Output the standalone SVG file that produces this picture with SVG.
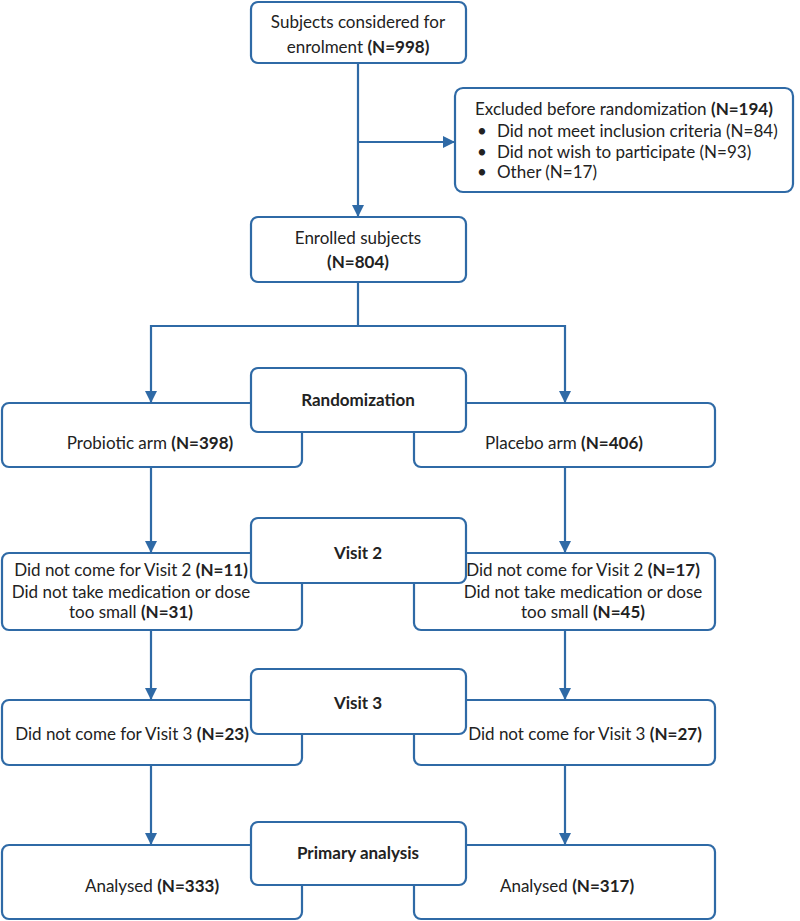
<svg xmlns="http://www.w3.org/2000/svg" width="800" height="921" viewBox="0 0 800 921">
<style>
.box{fill:#fff;stroke:#2f6aa6;stroke-width:2.2}
.ln{fill:none;stroke:#2f6aa6;stroke-width:2.2}
text{font-family:Lato,"Open Sans","Liberation Sans",sans-serif;font-size:17px;fill:#222}
.c{text-anchor:middle}
.b{font-weight:bold}
</style>
<defs>
<marker id="ah" markerWidth="12" markerHeight="12" refX="11" refY="6" orient="auto" markerUnits="userSpaceOnUse" viewBox="0 0 12 12">
<path d="M0,0 L12,6 L0,12 z" fill="#2f6aa6"/>
</marker>
</defs>
<rect width="800" height="921" fill="#fff"/>
<g id="connectors">
<path class="ln" d="M358,63 V216" marker-end="url(#ah)"/>
<path class="ln" d="M358,142 H454" marker-end="url(#ah)"/>
<path class="ln" d="M358,282 V326 H151 V402" marker-end="url(#ah)"/>
<path class="ln" d="M358,326 H565 V402" marker-end="url(#ah)"/>
<path class="ln" d="M151,467 V552" marker-end="url(#ah)"/>
<path class="ln" d="M565,467 V552" marker-end="url(#ah)"/>
<path class="ln" d="M151,630 V699" marker-end="url(#ah)"/>
<path class="ln" d="M565,630 V699" marker-end="url(#ah)"/>
<path class="ln" d="M151,765 V844" marker-end="url(#ah)"/>
<path class="ln" d="M565,765 V844" marker-end="url(#ah)"/>
</g>
<g id="considered">
<rect class="box" x="251" y="2" width="215" height="61" rx="7"/>
<text class="c" x="358" y="28">Subjects considered for</text>
<text class="c" x="358" y="53">enrolment <tspan class="b">(N=998)</tspan></text>
</g>
<g id="excluded">
<rect class="box" x="455" y="88" width="338" height="104" rx="8"/>
<text x="475" y="115">Excluded before randomization <tspan class="b">(N=194)</tspan></text>
<text x="477" y="137">•</text><text x="497" y="137">Did not meet inclusion criteria (N=84)</text>
<text x="477" y="158">•</text><text x="497" y="158">Did not wish to participate (N=93)</text>
<text x="477" y="178">•</text><text x="497" y="178">Other (N=17)</text>
</g>
<g id="enrolled">
<rect class="box" x="251" y="217" width="215" height="65" rx="7"/>
<text class="c" x="358" y="244">Enrolled subjects</text>
<text class="c b" x="358" y="268">(N=804)</text>
</g>
<g id="probiotic">
<rect class="box" x="2" y="403" width="300" height="64" rx="7"/>
<text class="c" x="150" y="449">Probiotic arm <tspan class="b">(N=398)</tspan></text>
</g>
<g id="placebo">
<rect class="box" x="414" y="403" width="301" height="64" rx="7"/>
<text class="c" x="564" y="449">Placebo arm <tspan class="b">(N=406)</tspan></text>
</g>
<g id="randomization">
<rect class="box" x="251" y="368" width="215" height="64" rx="7"/>
<text class="c b" x="358" y="406">Randomization</text>
</g>
<g id="v2left">
<rect class="box" x="2" y="553" width="300" height="77" rx="7"/>
<text class="c" x="131" y="576">Did not come for Visit 2 <tspan class="b">(N=11)</tspan></text>
<text class="c" x="131" y="598">Did not take medication or dose</text>
<text class="c" x="131" y="618">too small <tspan class="b">(N=31)</tspan></text>
</g>
<g id="v2right">
<rect class="box" x="414" y="553" width="301" height="77" rx="7"/>
<text class="c" x="583" y="576">Did not come for Visit 2 <tspan class="b">(N=17)</tspan></text>
<text class="c" x="583" y="598">Did not take medication or dose</text>
<text class="c" x="583" y="618">too small <tspan class="b">(N=45)</tspan></text>
</g>
<g id="visit2">
<rect class="box" x="251" y="518" width="215" height="65" rx="7"/>
<text class="c b" x="358" y="559">Visit 2</text>
</g>
<g id="v3left">
<rect class="box" x="2" y="700" width="300" height="65" rx="7"/>
<text class="c" x="132" y="740">Did not come for Visit 3 <tspan class="b">(N=23)</tspan></text>
</g>
<g id="v3right">
<rect class="box" x="414" y="700" width="301" height="65" rx="7"/>
<text class="c" x="585" y="740">Did not come for Visit 3 <tspan class="b">(N=27)</tspan></text>
</g>
<g id="visit3">
<rect class="box" x="251" y="669" width="215" height="65" rx="7"/>
<text class="c b" x="358" y="709">Visit 3</text>
</g>
<g id="anleft">
<rect class="box" x="2" y="845" width="300" height="74" rx="7"/>
<text class="c" x="152" y="892">Analysed <tspan class="b">(N=333)</tspan></text>
</g>
<g id="anright">
<rect class="box" x="414" y="845" width="301" height="74" rx="7"/>
<text class="c" x="567" y="892">Analysed <tspan class="b">(N=317)</tspan></text>
</g>
<g id="primary">
<rect class="box" x="251" y="822" width="215" height="63" rx="7"/>
<text class="c b" x="358" y="859">Primary analysis</text>
</g>
</svg>
